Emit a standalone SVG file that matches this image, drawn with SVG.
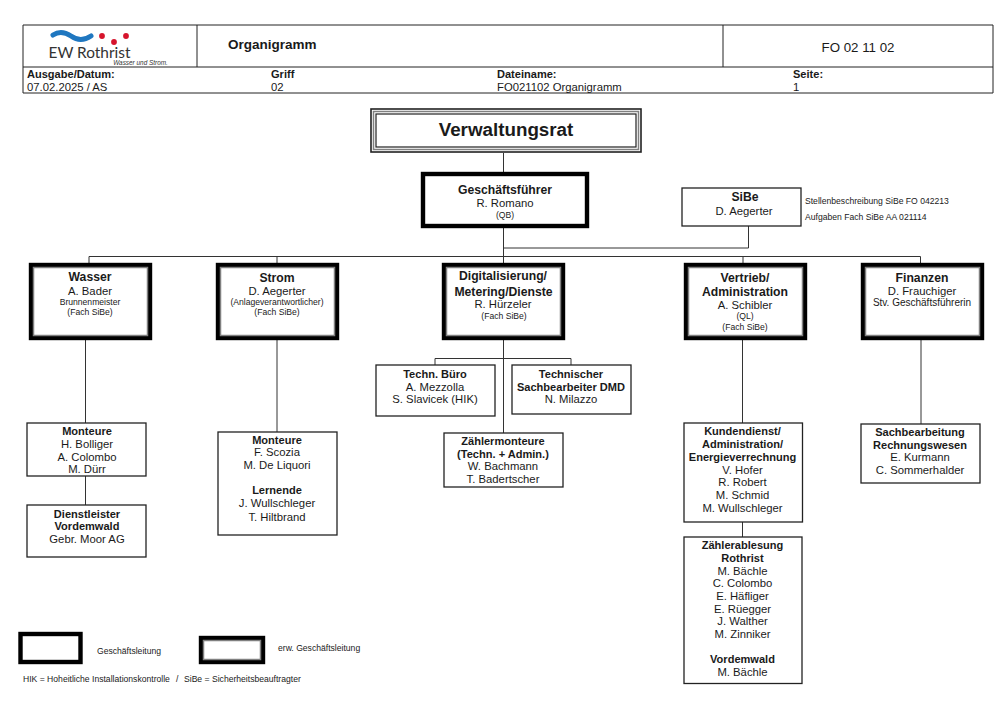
<svg xmlns="http://www.w3.org/2000/svg" width="1008" height="709" viewBox="0 0 1008 709">
<style>
text{font-family:"Liberation Sans",Arial,sans-serif;fill:#1a1a1a;text-anchor:middle;font-size:11.3px}
.b{font-weight:bold;font-size:11.05px}
.h{font-weight:bold;font-size:12.2px}
.s{font-size:8.600px}
.l{text-anchor:start}
.n{font-size:8.600px}
.box{fill:#fff;stroke:#222;stroke-width:1.3}
.thick{fill:#fff;stroke:#000;stroke-width:4.4}
.gray{fill:none;stroke:#808080;stroke-width:1.5}
.c{fill:none;stroke:#333;stroke-width:1}
</style>
<rect width="1008" height="709" fill="#fff"/>
<g id="header">
<path d="M23 25H993V93H23ZM23 67H993M197 25V67M723 25V67" fill="none" stroke="#222" stroke-width="1"/>
<path d="M53 35C59 31 65 32 71 36C78 41 85 40 91 36" fill="none" stroke="#1f77c0" stroke-width="5" stroke-linecap="round"/>
<circle cx="102" cy="36" r="2.9" fill="#d6142c"/><circle cx="114" cy="42" r="2.9" fill="#d6142c"/><circle cx="126" cy="36" r="2.9" fill="#d6142c"/>
<text x="89.500" y="57.500" style="font-family:Lato,sans-serif;font-size:15.400px;fill:#333">EW Rothrist</text>
<text x="140.500" y="65" style="font-size:6.400px;font-style:italic;fill:#333">Wasser und Strom.</text>
<text x="228" y="49" class="l" style="font-weight:bold;font-size:13.500px">Organigramm</text>
<text x="858" y="52" style="font-size:13.300px">FO 02 11 02</text>
<text x="27" y="78" class="b l">Ausgabe/Datum:</text><text x="27" y="91" class="l">07.02.2025 / AS</text>
<text x="271" y="78" class="b l">Griff</text><text x="271" y="91" class="l">02</text>
<text x="497" y="78" class="b l">Dateiname:</text><text x="497" y="91" class="l">FO021102 Organigramm</text>
<text x="793" y="78" class="b l">Seite:</text><text x="793" y="91" class="l">1</text>
</g>
<g id="connectors" class="c">
<path d="M503.500 153V263M503.500 248H748.500V226M89 263V256.500H920.500V263M277 256.500V263M743 256.500V263"/>
<path d="M85.500 339V423M85.500 476V505M277 339V432M503.500 339V433M435 365V358.500H571V365M742.500 339V423M742.500 522V537M921 339V424"/>
</g>
<g id="verwaltungsrat">
<rect x="371" y="109" width="270" height="43" fill="#fff" stroke="#222" stroke-width="1.6"/>
<rect x="373.500" y="111.500" width="265" height="38" class="gray"/>
<rect x="376" y="114" width="260" height="33" fill="none" stroke="#222" stroke-width="1.2"/>
<text x="506" y="136" style="font-weight:bold;font-size:18.800px">Verwaltungsrat</text>
</g>
<g id="geschaeftsfuehrer">
<rect x="423" y="174" width="164" height="52" class="thick"/>
<text x="505" y="194" class="h">Geschäftsführer</text><text x="505" y="207">R. Romano</text><text x="505" y="218" class="s">(QB)</text>
</g>
<g id="sibe">
<rect x="682" y="188" width="119" height="38" class="box"/>
<text x="745" y="201" class="h">SiBe</text><text x="744" y="215">D. Aegerter</text>
<text x="805" y="204" class="l n">Stellenbeschreibung SiBe FO 042213</text>
<text x="805" y="220" class="l n">Aufgaben Fach SiBe AA 021114</text>
</g>
<g id="wasser">
<rect x="31" y="265" width="119" height="73" class="thick"/><rect x="33.500" y="267.500" width="114" height="68" class="gray"/>
<text x="90" y="281" class="h">Wasser</text><text x="90" y="295">A. Bader</text><text x="90" y="305" class="s">Brunnenmeister</text><text x="90" y="315" class="s">(Fach SiBe)</text>
</g>
<g id="strom">
<rect x="218" y="265" width="119" height="73" class="thick"/><rect x="220.500" y="267.500" width="114" height="68" class="gray"/>
<text x="277" y="282" class="h">Strom</text><text x="277" y="295">D. Aegerter</text><text x="277" y="305" class="s">(Anlageverantwortlicher)</text><text x="277" y="315" class="s">(Fach SiBe)</text>
</g>
<g id="digitalisierung">
<rect x="444" y="265" width="119" height="73" class="thick"/><rect x="446.500" y="267.500" width="114" height="68" class="gray"/>
<text x="503" y="280" class="h">Digitalisierung/</text><text x="503.500" y="296" class="h">Metering/Dienste</text><text x="503" y="308">R. Hürzeler</text><text x="504" y="319" class="s">(Fach SiBe)</text>
</g>
<g id="vertrieb">
<rect x="686" y="265" width="119" height="73" class="thick"/><rect x="688.500" y="267.500" width="114" height="68" class="gray"/>
<text x="745" y="282" class="h">Vertrieb/</text><text x="745" y="296" class="h">Administration</text><text x="745" y="309">A. Schibler</text><text x="745" y="319" class="s">(QL)</text><text x="745" y="330" class="s">(Fach SiBe)</text>
</g>
<g id="finanzen">
<rect x="863" y="265" width="119" height="73" class="thick"/><rect x="865.500" y="267.500" width="114" height="68" class="gray"/>
<text x="922" y="282" class="h">Finanzen</text><text x="922" y="295">D. Frauchiger</text><text x="922" y="306" style="font-size:10px">Stv. Geschäftsführerin</text>
</g>
<g id="monteure1">
<rect x="27" y="423" width="119" height="53" class="box"/>
<text x="87" y="435" class="b">Monteure</text><text x="87" y="448">H. Bolliger</text><text x="87" y="461">A. Colombo</text><text x="87" y="473">M. Dürr</text>
</g>
<g id="dienstleister">
<rect x="27" y="505" width="119" height="52" class="box"/>
<text x="87" y="518" class="b">Dienstleister</text><text x="87" y="530" class="b">Vordemwald</text><text x="87" y="543">Gebr. Moor AG</text>
</g>
<g id="monteure2">
<rect x="218" y="432" width="119" height="103" class="box"/>
<text x="277" y="444" class="b">Monteure</text><text x="277" y="456">F. Scozia</text><text x="277" y="469">M. De Liquori</text><text x="277" y="494" class="b">Lernende</text><text x="277" y="507">J. Wullschleger</text><text x="277" y="521">T. Hiltbrand</text>
</g>
<g id="technbuero">
<rect x="376" y="365" width="119" height="51" class="box"/>
<text x="435" y="378" class="b">Techn. Büro</text><text x="435" y="391">A. Mezzolla</text><text x="435" y="403">S. Slavicek (HIK)</text>
</g>
<g id="sachbearbeiter">
<rect x="512" y="365" width="119" height="49" class="box"/>
<text x="571" y="378" class="b">Technischer</text><text x="571" y="391" class="b">Sachbearbeiter DMD</text><text x="571" y="403">N. Milazzo</text>
</g>
<g id="zaehlermonteure">
<rect x="444" y="433" width="119" height="54" class="box"/>
<text x="503" y="445" class="b">Zählermonteure</text><text x="503" y="458" class="b">(Techn. + Admin.)</text><text x="503" y="470">W. Bachmann</text><text x="503" y="483">T. Badertscher</text>
</g>
<g id="kundendienst">
<rect x="684" y="423" width="118.500" height="99" class="box"/>
<text x="742.500" y="435" class="b">Kundendienst/</text><text x="742.500" y="448" class="b">Administration/</text><text x="742.500" y="461" class="b">Energieverrechnung</text><text x="742.500" y="474">V. Hofer</text><text x="742.500" y="486">R. Robert</text><text x="742.500" y="499">M. Schmid</text><text x="742.500" y="512">M. Wullschleger</text>
</g>
<g id="zaehlerablesung">
<rect x="684" y="537" width="118" height="146.500" class="box"/>
<text x="742.500" y="549" class="b">Zählerablesung</text><text x="742.500" y="562" class="b">Rothrist</text><text x="742.500" y="575">M. Bächle</text><text x="742.500" y="587">C. Colombo</text><text x="742.500" y="600">E. Häfliger</text><text x="742.500" y="613">E. Rüegger</text><text x="742.500" y="625">J. Walther</text><text x="742.500" y="638">M. Zinniker</text><text x="742.500" y="663" class="b">Vordemwald</text><text x="742.500" y="676">M. Bächle</text>
</g>
<g id="sachbearbeitung">
<rect x="861" y="424" width="119" height="59" class="box"/>
<text x="920" y="436" class="b">Sachbearbeitung</text><text x="920" y="449" class="b">Rechnungswesen</text><text x="920" y="461">E. Kurmann</text><text x="920" y="474">C. Sommerhalder</text>
</g>
<g id="legende">
<rect x="20.500" y="634" width="60" height="28" class="thick"/>
<rect x="201" y="638" width="62" height="24" class="thick"/><rect x="203.500" y="640.500" width="57" height="19" class="gray"/>
<text x="97" y="654" class="l n">Geschäftsleitung</text>
<text x="278" y="651" class="l n">erw. Geschäftsleitung</text>
<text x="23" y="682" class="l n">HIK = Hoheitliche Installationskontrolle</text>
<text x="176" y="682" class="l n">/</text>
<text x="184" y="682" class="l n">SiBe = Sicherheitsbeauftragter</text>
</g>
</svg>
